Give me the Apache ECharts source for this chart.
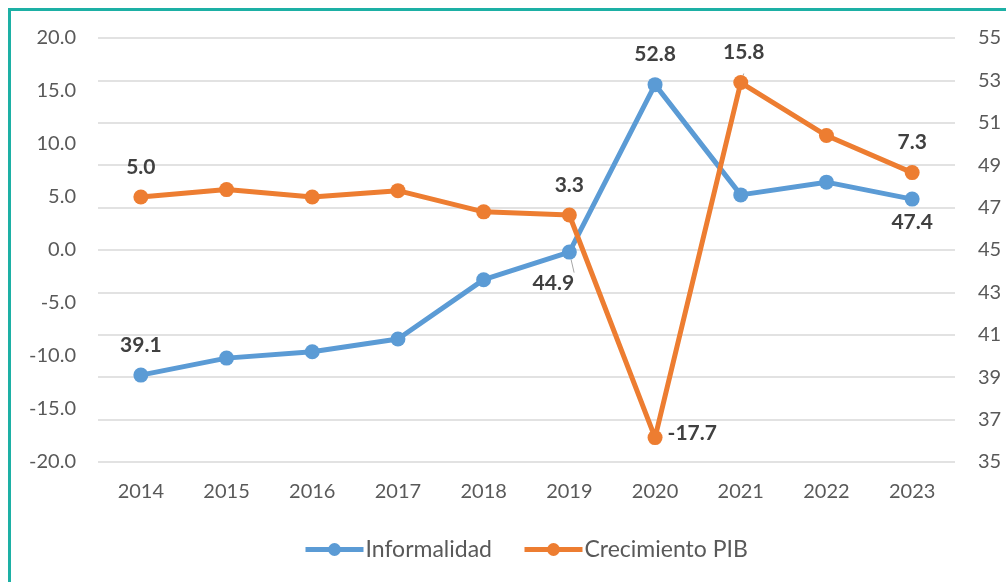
<!DOCTYPE html>
<html>
<head>
<meta charset="utf-8">
<script src="https://cdn.jsdelivr.net/npm/echarts@6/dist/echarts.min.js"></script>
<style>
body{margin:0;background:#fff;}
#marco{position:absolute;left:8px;top:8px;width:1100px;height:700px;border:3px solid #1DB0A5;}
#grafico{position:absolute;left:0;top:0;width:1006px;height:582px;}
</style>
</head>
<body>
<div id="marco"></div>
<div id="grafico"></div>
<script>
var anios = ['2014','2015','2016','2017','2018','2019','2020','2021','2022','2023'];
var informalidad = [39.1, 39.9, 40.2, 40.8, 43.6, 44.9, 52.8, 47.6, 48.2, 47.4]; //eje derecho
var crecimientoPIB = [5.0, 5.7, 5.0, 5.6, 3.6, 3.3, -17.7, 15.8, 10.8, 7.3]; //eje izquierdo

var fuente = 'Lato, "Open Sans", sans-serif';
var gris = '#595959';

// etiquetas que se muestran (indice -> config)
var etiqInformalidad = {
	0: {position: 'top', distance: 12},
	5: {position: 'bottom', distance: 13, offset: [-16, 0], linea: true},
	6: {position: 'top', distance: 12},
	9: {position: 'bottom', distance: 5}
};
var etiqPIB = {
	0: {position: 'top', distance: 12},
	5: {position: 'top', distance: 12},
	6: {position: 'right', distance: 5, offset: [0, -4]},
	7: {position: 'top', distance: 12, offset: [3, 0], linea: true},
	9: {position: 'top', distance: 12}
};

function armarDatos(valores, etiq) {
	var out = [];
	for (var i = 0; i < valores.length; i++) {
		var e = etiq[i];
		if (e) {
			out.push({
				value: valores[i],
				label: {show: true, position: e.position, distance: e.distance, offset: e.offset || [0, 0]},
				labelLine: {show: !!e.linea, lineStyle: {color: '#a6a6a6', width: 1}}
			});
		} else {
			out.push({value: valores[i], label: {show: false}});
		}
	}
	return out;
}

var etiquetaComun = {
	fontFamily: fuente, fontSize: 21, fontWeight: 'bold', color: '#404040',
	formatter: function(p) { return p.value.toFixed(1); }
};

var myChart = echarts.init(document.getElementById('grafico'), null, {renderer: 'canvas'});
myChart.setOption({
	backgroundColor: 'transparent',
	animation: false,
	grid: {left: 98, right: 51, top: 38, bottom: 120},
	legend: {
		left: 298, top: 533,
		itemWidth: 58, itemHeight: 16, itemGap: 30,
		lineStyle: {width: 5},
		textStyle: {fontFamily: fuente, fontSize: 23, color: gris, padding: [0, 0, 0, -3]},
		data: ['Informalidad', 'Crecimiento PIB']
	},
	xAxis: {
		type: 'category', data: anios, boundaryGap: true,
		axisLine: {show: false}, axisTick: {show: false},
		axisLabel: {fontFamily: fuente, fontSize: 20, color: gris, margin: 20}
	},
	yAxis: [{
		type: 'value', min: -20, max: 20, interval: 5, position: 'left',
		axisLine: {show: false}, axisTick: {show: false}, splitLine: {show: false},
		axisLabel: {fontFamily: fuente, fontSize: 20, color: gris, margin: 22, formatter: function(v) { return v.toFixed(1); }}
	}, {
		type: 'value', min: 35, max: 55, interval: 2, position: 'right',
		axisLine: {show: false}, axisTick: {show: false},
		splitLine: {show: true, lineStyle: {color: '#d9d9d9', width: 1.5}},
		axisLabel: {fontFamily: fuente, fontSize: 20, color: gris, margin: 23}
	}],
	series: [{
		name: 'Informalidad', type: 'line', yAxisIndex: 1,
		data: armarDatos(informalidad, etiqInformalidad),
		symbol: 'circle', symbolSize: 15,
		lineStyle: {color: '#5B9BD5', width: 5},
		itemStyle: {color: '#5B9BD5'},
		label: etiquetaComun, z: 2
	}, {
		name: 'Crecimiento PIB', type: 'line', yAxisIndex: 0,
		data: armarDatos(crecimientoPIB, etiqPIB),
		symbol: 'circle', symbolSize: 15,
		lineStyle: {color: '#ED7D31', width: 5},
		itemStyle: {color: '#ED7D31'},
		label: etiquetaComun, z: 3
	}]
});
</script>
</body>
</html>
